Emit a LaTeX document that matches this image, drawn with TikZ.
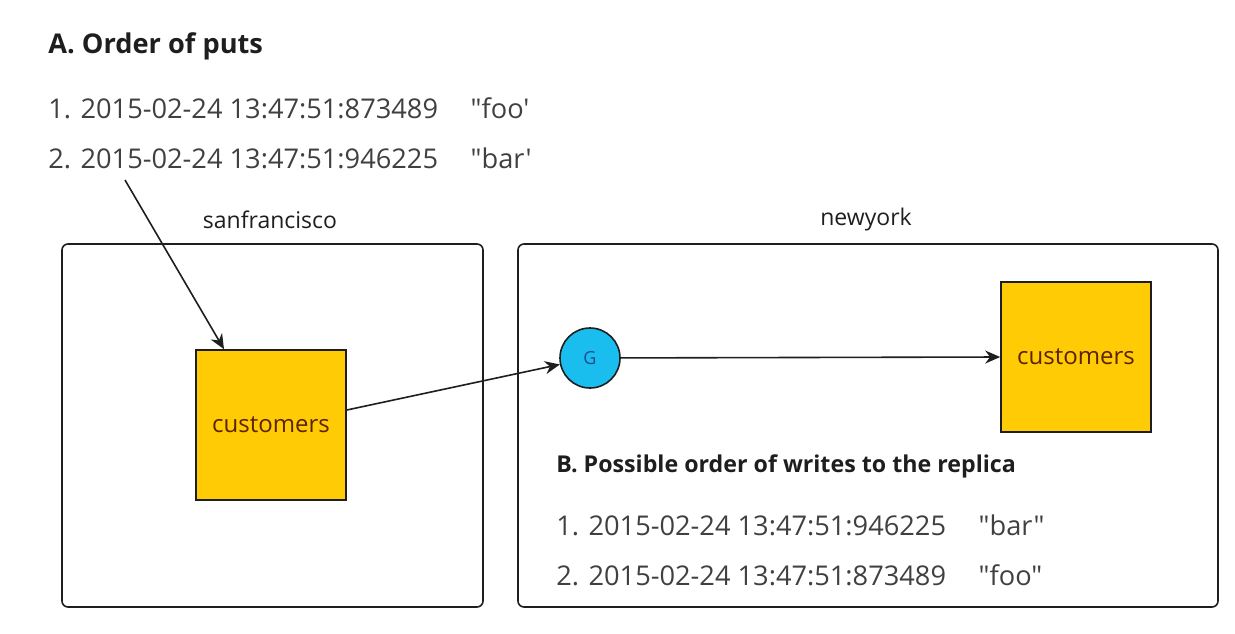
\documentclass[tikz,border=0pt]{standalone}
\usepackage{fontspec}
\setmainfont{Open Sans}[Ligatures=TeXOff]
\usetikzlibrary{arrows.meta,positioning}
\definecolor{Ink}{HTML}{1E1E1E}
\definecolor{Gold}{HTML}{FFCB05}
\definecolor{Cocoa}{HTML}{5B2300}
\definecolor{Sky}{HTML}{1ABEEE}
\definecolor{Deep}{HTML}{1B4F8C}
\tikzset{
  dcbox/.style={draw=Ink, thick, rounded corners=3pt},
  dclabel/.style={font=\fontsize{11.5}{13}\selectfont, text=Ink},
  tablebox/.style={draw=Ink, thick, fill=Gold, minimum width=75pt, minimum height=75pt, inner sep=0pt, font=\fontsize{12}{14}\selectfont, text=Cocoa},
  feed/.style={circle, draw=Ink, thick, fill=Sky, minimum size=30pt, inner sep=0pt, font=\fontsize{9}{10}\selectfont, text=Deep},
  heading/.style={anchor=west, inner sep=0pt, font=\fontsize{13.6}{15}\selectfont\bfseries, text=Ink},
  entry/.style={anchor=west, inner sep=0pt, font=\fontsize{13.6}{15}\selectfont, text=Ink!85},
  arrow/.style={-{Stealth[length=7.5pt, width=6.5pt]}, thick, draw=Ink}
}
\begin{document}
\begin{tikzpicture}[x=0.5pt, y=-0.5pt]
\useasboundingbox (0,0) rectangle (1235,633);
% order of puts
\node[heading] (heada) at (48,46) {A. Order of puts};
\node[entry] (put1) at (48,108) {1. 2015-02-24 13:47:51:873489\hspace{1.2em}"foo'};
\node[entry, below=14pt of put1.south west, anchor=north west] (put2) {2. 2015-02-24 13:47:51:946225\hspace{1.2em}"bar'};
% datacenters
\draw[dcbox] (62,244) rectangle (483,607);
\draw[dcbox] (518,244) rectangle (1218,607);
\node[dclabel] (sflabel) at (270,220) {sanfrancisco};
\node[dclabel] (nylabel) at (866,220) {newyork};
\node[tablebox] (sfcust) at (271,425) {customers};
\node[tablebox] (nycust) at (1076,357) {customers};
\node[feed] (feed) at (590,358) {G};
% writes to the replica
\node[heading, font=\fontsize{11.6}{14}\selectfont\bfseries] (headb) at (556,466) {B. Possible order of writes to the replica};
\node[entry] (write1) at (556,525) {1. 2015-02-24 13:47:51:946225\hspace{1.2em}"bar"};
\node[entry, below=14pt of write1.south west, anchor=north west] (write2) {2. 2015-02-24 13:47:51:873489\hspace{1.2em}"foo"};
% connectors
\coordinate (putsrc) at (125,180);
\draw[arrow] (putsrc) -- ([xshift=-23.5pt]sfcust.north);
\draw[arrow] ([yshift=7.5pt]sfcust.east) -- (feed);
\draw[arrow] (feed) -- (nycust.west);
\end{tikzpicture}
\end{document}
